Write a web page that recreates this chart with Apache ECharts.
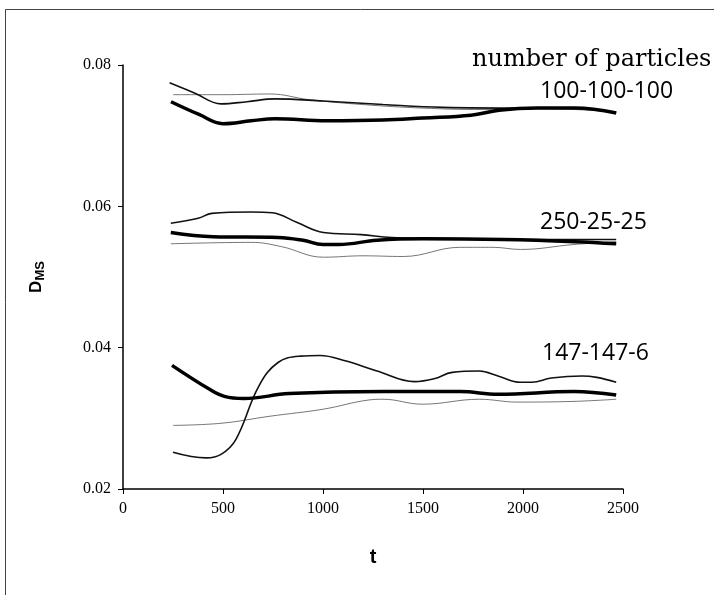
<!DOCTYPE html>
<html>
<head>
<meta charset="utf-8">
<script src="https://cdn.jsdelivr.net/npm/echarts@6/dist/echarts.min.js"></script>
<style>
    html, body { margin: 0; padding: 0; background: #fff; }
    #main { width: 714px; height: 595px; }
</style>
</head>
<body>
<div id="main"></div>
<script>
    // 100-100-100
    var thick100 = [[240,0.0748],[380,0.0730],[500,0.0717],[640,0.0721],[760,0.0724],[1020,0.0721],[1300,0.0722],[1500,0.0725],[1740,0.0729],[1880,0.0736],[2070,0.0739],[2260,0.0739],[2466,0.0732]];
    var mid100 = [[233,0.0775],[360,0.0760],[490,0.0745],[620,0.0748],[760,0.0752],[1000,0.0749],[1300,0.0744],[1600,0.0740],[2000,0.0739],[2260,0.0739],[2466,0.0732]];
    var thin100 = [[250,0.0758],[500,0.0758],[735,0.0759],[930,0.0751],[1200,0.0744],[1500,0.0739],[1800,0.0737],[2100,0.0738],[2466,0.0734]];

    // 250-25-25
    var thick250 = [[239,0.0563],[450,0.0557],[775,0.0556],[900,0.0552],[1000,0.0546],[1080,0.0546],[1270,0.0552],[1500,0.0554],[1900,0.0553],[2260,0.0550],[2466,0.0547]];
    var mid250 = [[239,0.0576],[376,0.0583],[444,0.0590],[643,0.0592],[746,0.0591],[871,0.0577],[1002,0.0563],[1190,0.0560],[1344,0.0556],[1700,0.0554],[2100,0.0553],[2466,0.0553]];
    var thin250 = [[239,0.0547],[643,0.0549],[792,0.0543],[1002,0.0528],[1200,0.0530],[1401,0.0529],[1686,0.0542],[1850,0.0542],[1987,0.0539],[2255,0.0546],[2466,0.0550]];

    // 147-147-6
    var thick147 = [[245,0.0375],[433,0.0341],[507,0.0331],[604,0.0328],[831,0.0335],[1305,0.0338],[1686,0.0338],[1875,0.0334],[2255,0.0338],[2466,0.0333]];
    var mid147 = [[250,0.0252],[416,0.0244],[490,0.0249],[564,0.0270],[678,0.0345],[775,0.0379],[888,0.0388],[985,0.0389],[1116,0.0381],[1270,0.0367],[1458,0.0352],[1555,0.0356],[1646,0.0365],[1782,0.0367],[1875,0.0360],[1987,0.0351],[2044,0.0351],[2141,0.0357],[2295,0.0360],[2369,0.0358],[2466,0.0351]];
    var thin147 = [[250,0.0290],[490,0.0293],[735,0.0303],[1002,0.0313],[1230,0.0326],[1300,0.0327],[1497,0.0320],[1782,0.0327],[1970,0.0323],[2255,0.0324],[2466,0.0327]];

    var groupLabels = ['100-100-100', '250-25-25', '147-147-6'];
    var yTicks = [0.02, 0.04, 0.06, 0.08];

    var myChart = echarts.init(document.getElementById('main'));

    function line(data, w, color) {
        return {
            type: 'line',
            data: data,
            smooth: 0.4,
            symbol: 'none',
            lineStyle: { width: w, color: color },
            z: w > 2 ? 3 : 2
        };
    }

    var option = {
        backgroundColor: '#fff',
        animation: false,
        grid: { left: 123, top: 65, right: 91, bottom: 106 },
        xAxis: {
            type: 'value',
            min: 0, max: 2500, interval: 500,
            axisLine: { show: true, lineStyle: { color: '#000', width: 1.5 } },
            axisTick: { show: true, length: 5, lineStyle: { color: '#000' } },
            axisLabel: {
                color: '#000', fontFamily: 'Liberation Serif', fontSize: 16, margin: 12,
                formatter: function (v) { return String(v); }
            },
            splitLine: { show: false },
            name: 't',
            nameLocation: 'middle',
            nameGap: 58,
            nameTextStyle: { color: '#000', fontFamily: 'Liberation Sans', fontWeight: 'bold', fontSize: 20 }
        },
        yAxis: {
            type: 'value',
            min: yTicks[0], max: yTicks[yTicks.length - 1], interval: 0.02,
            axisLine: { show: true, lineStyle: { color: '#000', width: 1.5 } },
            axisTick: { show: true, length: 5, lineStyle: { color: '#000' } },
            axisLabel: {
                color: '#000', fontFamily: 'Liberation Serif', fontSize: 16, margin: 12,
                formatter: function (v) { return v.toFixed(2); }
            },
            splitLine: { show: false },
            name: '{d|D}{s|MS}',
            nameLocation: 'middle',
            nameGap: 76,
            nameRotate: 90,
            nameTextStyle: {
                rich: {
                    d: { fontFamily: 'Liberation Sans', fontWeight: 'bold', fontSize: 17, color: '#000' },
                    s: { fontFamily: 'Liberation Sans', fontWeight: 'bold', fontSize: 13, color: '#000', padding: [8, 0, 0, 0] }
                }
            }
        },
        series: [
            line(thin100, 0.9, '#666'), line(mid100, 1.6, '#111'), line(thick100, 3.5, '#000'),
            line(thin250, 0.9, '#666'), line(mid250, 1.6, '#111'), line(thick250, 3.5, '#000'),
            line(thin147, 0.9, '#666'), line(mid147, 1.6, '#111'), line(thick147, 3.5, '#000')
        ],
        graphic: [
            { type: 'rect', shape: { x: 5.5, y: 9.5, width: 760, height: 640 }, style: { fill: 'none', stroke: '#444', lineWidth: 1 }, silent: true },
            { type: 'text', x: 472, y: 60, style: { text: 'number of particles', font: '24px "DejaVu Serif"', fill: '#000', verticalAlign: 'middle' } },
            { type: 'text', x: 540, y: 91, style: { text: groupLabels[0], font: '23px "Open Sans"', fill: '#000', verticalAlign: 'middle' } },
            { type: 'text', x: 540, y: 222, style: { text: groupLabels[1], font: '23px "Open Sans"', fill: '#000', verticalAlign: 'middle' } },
            { type: 'text', x: 542, y: 353, style: { text: groupLabels[2], font: '23px "Open Sans"', fill: '#000', verticalAlign: 'middle' } }
        ]
    };
    myChart.setOption(option);
</script>
</body>
</html>
